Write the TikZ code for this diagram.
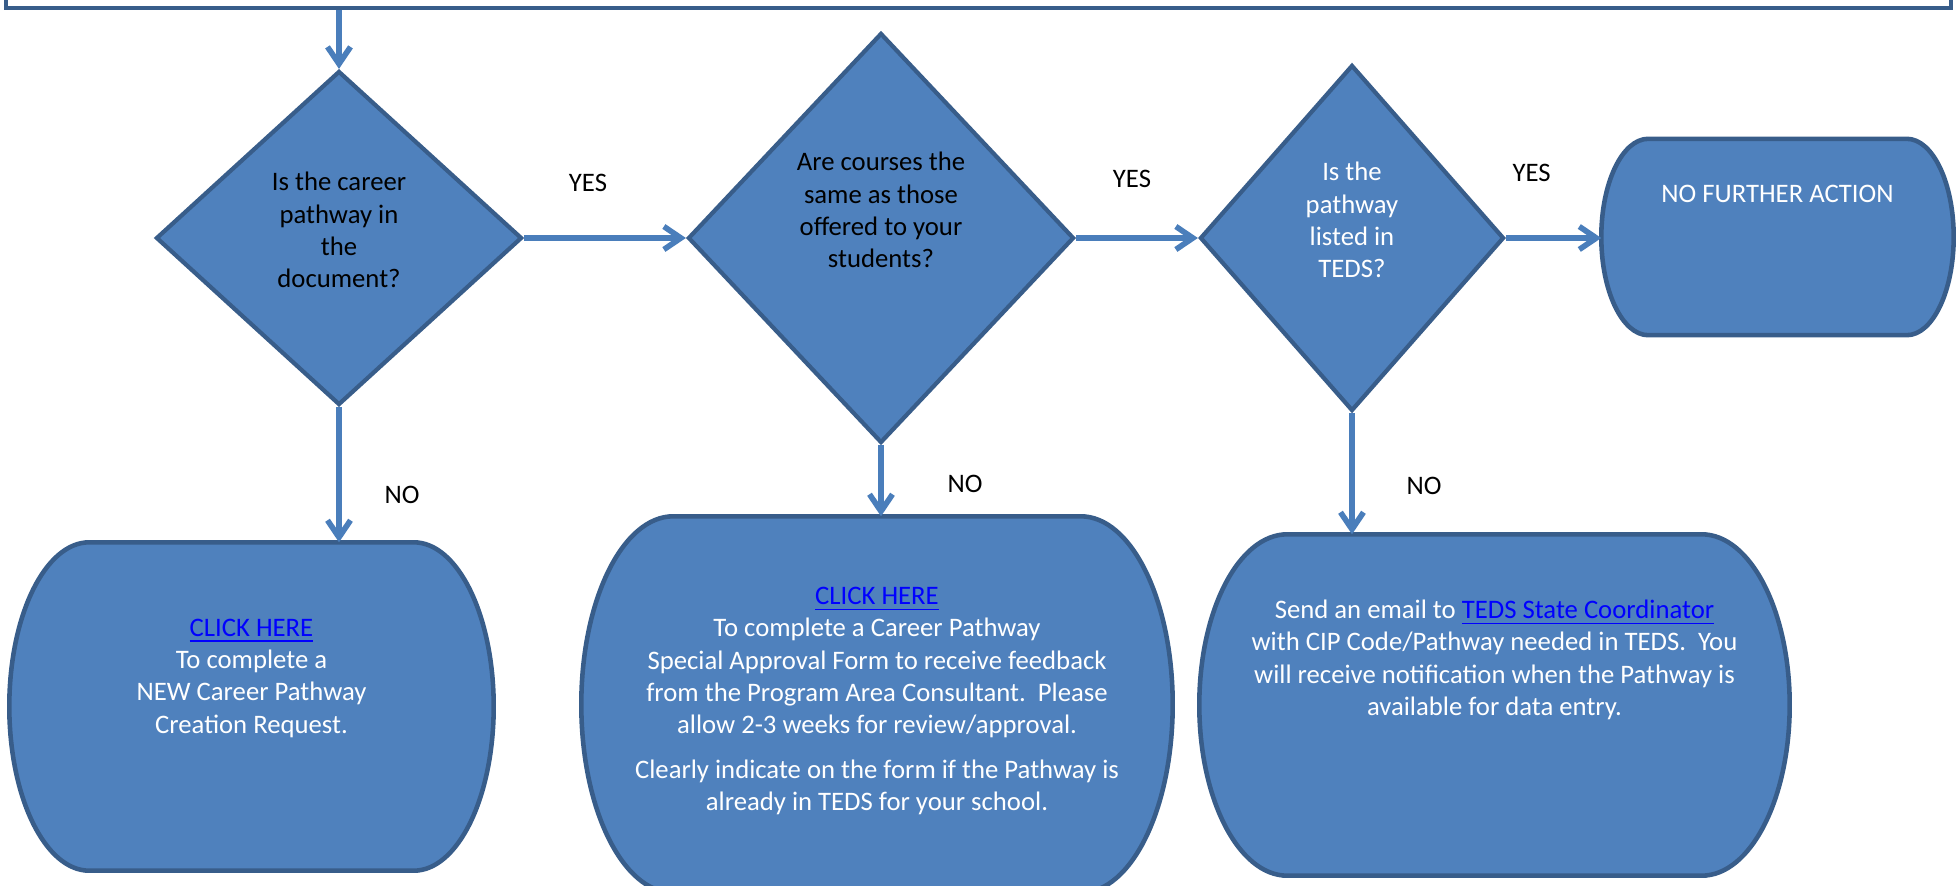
\documentclass[tikz,border=0pt]{standalone}
\usepackage{fontspec}
\setmainfont{Carlito}
\usetikzlibrary{arrows.meta,positioning,calc,shapes.geometric}
\definecolor{boxblue}{HTML}{4F81BD}
\definecolor{boxedge}{HTML}{385D8A}
\definecolor{arrowblue}{HTML}{4A7EBB}
\definecolor{linkblue}{HTML}{0000FF}
\newcommand{\lnk}[1]{{\color{linkblue}\underline{#1}}}
% outline with straight top/bottom and half-ellipse sides
\newcommand{\termshape}[2]{%
  \path[stadium] let \p1=(#1.north west), \p2=(#1.south east), \n1={(\y1-\y2)/2} in
    (\x1+#2,\y1) -- (\x2-#2,\y1)
    arc[start angle=90, end angle=-90, x radius=#2, y radius=\n1]
    -- (\x1+#2,\y2)
    arc[start angle=270, end angle=90, x radius=#2, y radius=\n1] -- cycle;}

\begin{document}
\begin{tikzpicture}[font=\fontsize{7.6}{9.2}\selectfont,
		decision/.style={diamond, draw=boxedge, fill=boxblue, line width=1.2pt, inner sep=0pt},
		endbox/.style={rectangle, inner sep=0pt},
		stadium/.style={fill=boxblue, draw=boxedge, line width=1.3pt},
		qtext/.style={align=center},
		boxtext/.style={align=center, text=white},
		ans/.style={text=black},
		flow/.style={draw=arrowblue, line width=1.6pt, -{Straight Barb[length=1.7mm,width=2.3mm]}}]
	\useasboundingbox (0,0) rectangle (19.56,-8.86);

	% top frame, cut by the page edge
	\node[draw=boxedge, line width=1.3pt, minimum width=19.45cm, minimum height=1cm, inner sep=0pt] (start) at (9.785,0.42) {};

	% questions
	\node[decision, minimum width=3.66cm, minimum height=3.34cm,
		label={[qtext, yshift=0.8mm]center:{Is the career\\pathway in\\the\\document?}}] (d1) at (3.39,-2.38) {};
	\node[decision, minimum width=3.86cm, minimum height=4.10cm,
		label={[qtext, yshift=2.8mm]center:{Are courses the\\same as those\\offered to your\\students?}}] (d2) at (8.81,-2.38) {};
	\node[decision, minimum width=3.04cm, minimum height=3.46cm,
		label={[qtext, text=white, yshift=1.8mm]center:{Is the\\pathway\\listed in\\TEDS?}}] (d3) at (13.52,-2.38) {};

	% end boxes
	\node[endbox, minimum width=3.51cm, minimum height=1.95cm] (nfa) at (17.775,-2.37) {};
	\termshape{nfa}{4.7mm}
	\node[boxtext] (nfatext) at ([yshift=4.3mm]nfa.center) {NO FURTHER ACTION};

	\node[endbox, minimum width=4.83cm, minimum height=3.27cm] (b1) at (2.515,-7.065) {};
	\termshape{b1}{8mm}
	\node[boxtext] (b1text) at ([yshift=2.85mm]b1.center) {\lnk{CLICK HERE}\\
		To complete a\\
		NEW Career Pathway\\
		Creation Request.};

	\node[endbox, minimum width=5.90cm, minimum height=3.75cm] (b2) at (8.77,-7.045) {};
	\termshape{b2}{9.2mm}
	\node[boxtext] (b2text) at ([yshift=0.35mm]b2.center) {\lnk{CLICK HERE}\\
		To complete a Career Pathway\\
		Special Approval Form to receive feedback\\
		from the Program Area Consultant.\ \ Please\\
		allow 2-3 weeks for review/approval.\\[1.2mm]
		Clearly indicate on the form if the Pathway is\\
		already in TEDS for your school.};

	\node[endbox, minimum width=5.89cm, minimum height=3.40cm] (b3) at (14.945,-7.05) {};
	\termshape{b3}{8.8mm}
	\node[boxtext] (b3text) at ([yshift=4.5mm]b3.center) {Send an email to \lnk{TEDS State Coordinator}\\
		with CIP Code/Pathway needed in TEDS.\ \ You\\
		will receive notification when the Pathway is\\
		available for data entry.};

	% connectors
	\draw[flow] (start.south -| d1.north) -- (d1.north);
	\draw[flow] (d1.east) -- node[ans, xshift=-1.7mm, yshift=5.5mm] (yes1) {YES} (d2.west);
	\draw[flow] (d2.east) -- node[ans, xshift=-0.5mm, yshift=5.9mm] (yes2) {YES} (d3.west);
	\draw[flow] (d3.east) -- node[ans, xshift=-2.2mm, yshift=6.5mm] (yes3) {YES} (d3.east -| nfa.west);
	\draw[flow] (d1.south) -- node[ans, xshift=6.3mm, yshift=-2mm] (no1) {NO} (d1.south |- b1.north);
	\draw[flow] (d2.south) -- node[ans, xshift=8.4mm, yshift=-0.3mm] (no2) {NO} (d2.south |- b2.north);
	\draw[flow] (d3.south) -- node[ans, xshift=7.2mm, yshift=-1.2mm] (no3) {NO} (d3.south |- b3.north);
\end{tikzpicture}
\end{document}
